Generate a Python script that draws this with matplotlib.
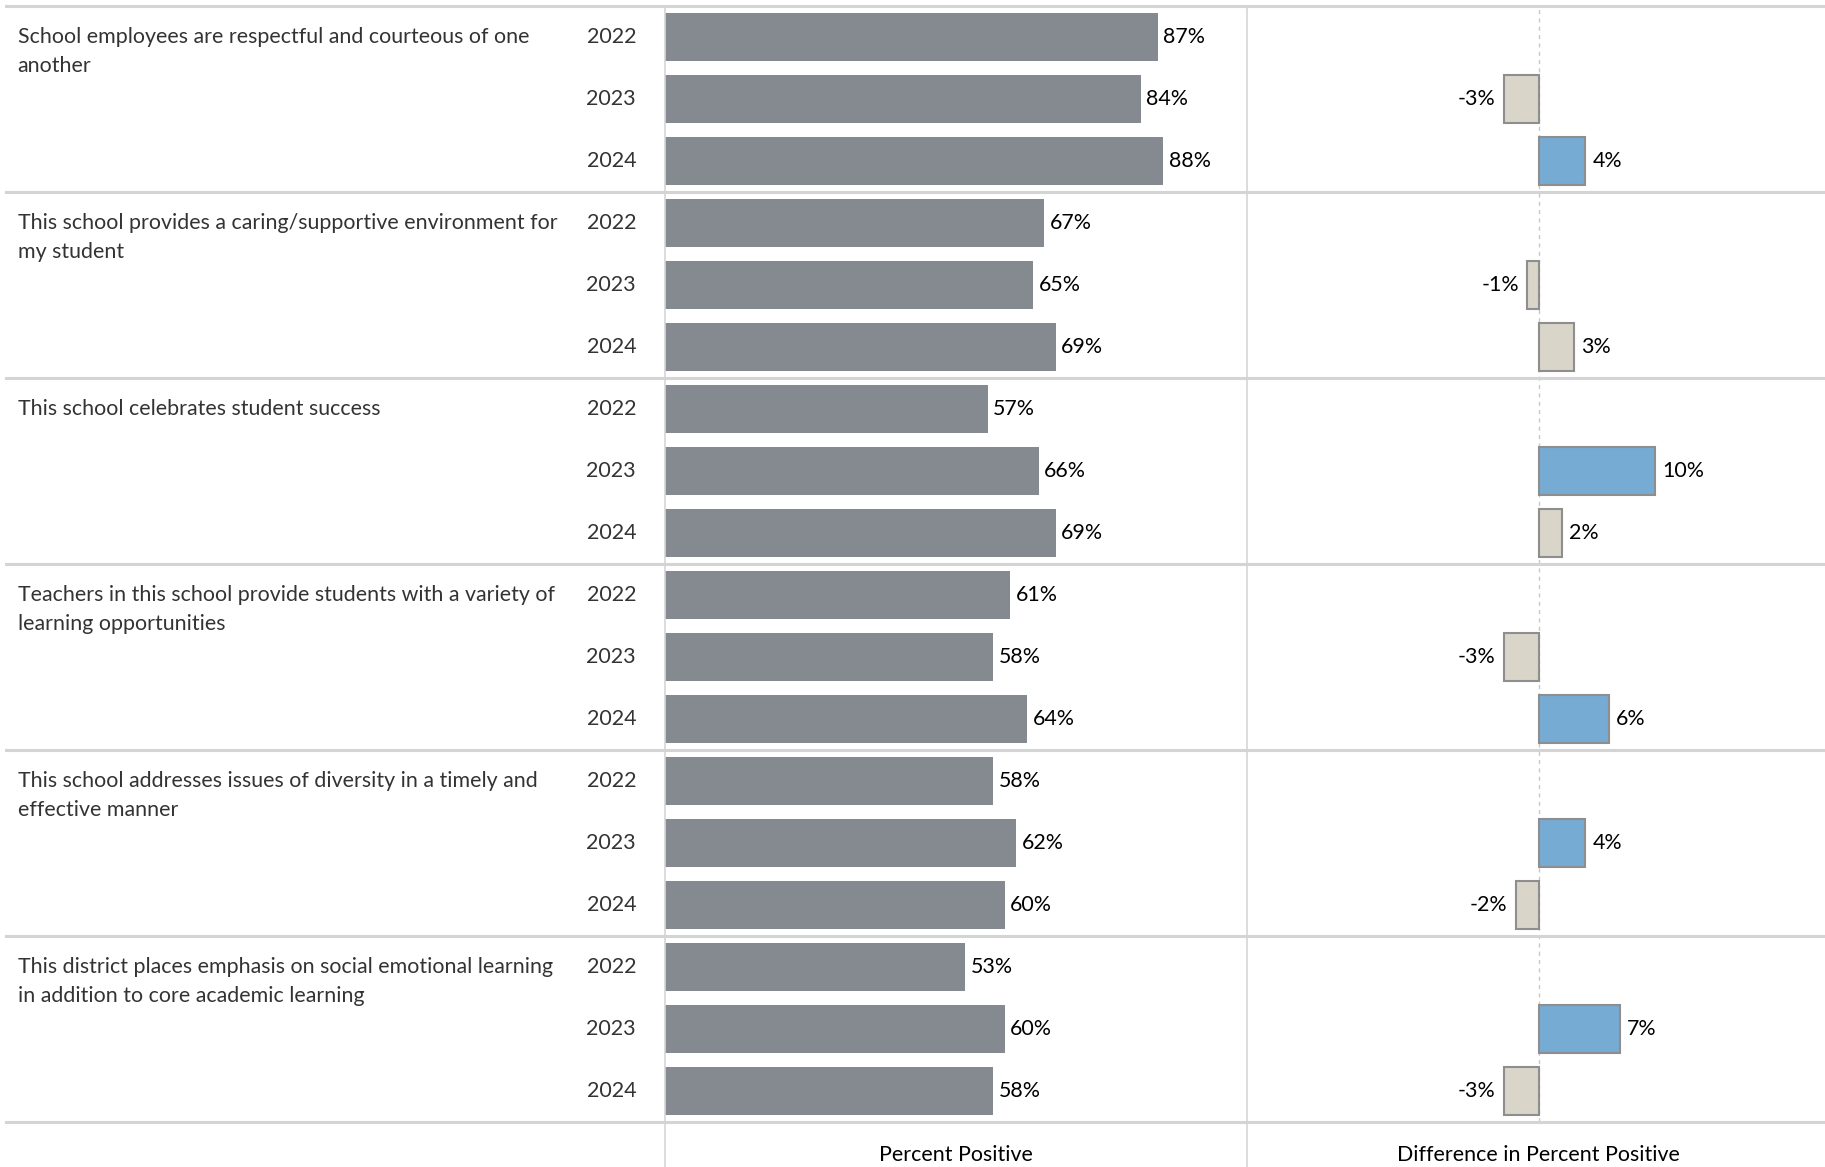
import matplotlib
matplotlib.use("Agg")
import matplotlib.pyplot as plt
from matplotlib.lines import Line2D

questions = [
    "School employees are respectful and courteous of one\nanother",
    "This school provides a caring/supportive environment for\nmy student",
    "This school celebrates student success",
    "Teachers in this school provide students with a variety of\nlearning opportunities",
    "This school addresses issues of diversity in a timely and\neffective manner",
    "This district places emphasis on social emotional learning\nin addition to core academic learning",
]
years = ["2022", "2023", "2024"]
percent_positive = [
    [87, 84, 88],
    [67, 65, 69],
    [57, 66, 69],
    [61, 58, 64],
    [58, 62, 60],
    [53, 60, 58],
]
difference = [
    [None, -3, 4],
    [None, -1, 3],
    [None, 10, 2],
    [None, -3, 6],
    [None, 4, -2],
    [None, 7, -3],
]
# "up" = notable increase (blue), "flat" = other (beige)
diff_category = [
    [None, "flat", "up"],
    [None, "flat", "flat"],
    [None, "up", "flat"],
    [None, "flat", "up"],
    [None, "up", "flat"],
    [None, "up", "flat"],
]

W, H = 1825, 1167
DPI = 100
FONT = ["Lato", "DejaVu Sans"]
FS = 15.4
plt.rcParams["font.family"] = FONT

fig = plt.figure(figsize=(W / DPI, H / DPI), dpi=DPI)
fig.patch.set_facecolor("white")

top_px, bot_px = 6, 1122
x_left, x_mid, x_right = 665, 1247, 1825
n_rows = len(questions) * len(years)
row_px = (bot_px - top_px) / n_rows


def fx(px):
    return px / W


def fy(py):
    return 1 - py / H


def add_ax(x0, x1):
    ax = fig.add_axes([fx(x0), fy(bot_px), fx(x1) - fx(x0), (bot_px - top_px) / H])
    ax.set_ylim(n_rows, 0)
    ax.axis("off")
    return ax


D_LO, D_HI = -25.1, 24.6
ax0 = add_ax(0, x_left)
ax0.set_xlim(0, x_left)
ax1 = add_ax(x_left, x_mid)
ax1.set_xlim(0, 102.8)
ax2 = add_ax(x_mid, x_right)
ax2.set_xlim(D_LO, D_HI)

GRAY = "#858a90"
BLUE = "#76abd4"
BEIGE = "#d9d5c9"
EDGE = "#8e8e8e"
TXT = "#333333"
bar_h = 0.79
line2_off = 29 / row_px

for g, q in enumerate(questions):
    base = g * len(years)
    for k, line in enumerate(q.split("\n")):
        ax0.text(17.5, base + 0.5 + k * line2_off, line, ha="left", va="center",
                 fontsize=FS, color=TXT)
    for j, yr in enumerate(years):
        yc = base + j + 0.5
        ax0.text(636, yc, yr, ha="right", va="center", fontsize=FS, color=TXT)
        v = percent_positive[g][j]
        ax1.barh(yc, v, height=bar_h, color=GRAY, edgecolor="none")
        ax1.annotate(f"{v}%", (v, yc), xytext=(4.0, 0), textcoords="offset points",
                     ha="left", va="center", fontsize=FS, color="black")
        d = difference[g][j]
        if d is not None:
            c = BLUE if diff_category[g][j] == "up" else BEIGE
            ax2.barh(yc, d, height=bar_h, color=c, edgecolor=EDGE, linewidth=1.5)
            if d >= 0:
                ax2.annotate(f"{d}%", (d, yc), xytext=(5, 0), textcoords="offset points",
                             ha="left", va="center", fontsize=FS, color="black")
            else:
                ax2.annotate(f"{d}%", (d, yc), xytext=(-6, 0), textcoords="offset points",
                             ha="right", va="center", fontsize=FS, color="black")

# zero reference line
ax2.axvline(0, color="#c8c8c8", linestyle=(0, (3, 3)), linewidth=1, zorder=0)

# vertical panel lines
for xp in (x_left, x_mid):
    fig.add_artist(Line2D([fx(xp), fx(xp)], [fy(top_px), 0], color="#d6d6d6", linewidth=1.2))

# horizontal separators
for g in range(len(questions) + 1):
    yp = top_px + g * len(years) * row_px
    fig.add_artist(Line2D([fx(6), 1], [fy(yp), fy(yp)], color="#d4d4d4", linewidth=2.2))

fig.text(fx((x_left + x_mid) / 2), fy(1155), "Percent Positive", ha="center", va="center",
         fontsize=FS, color="black")
fig.text(fx(x_mid + (0 - D_LO) / (D_HI - D_LO) * (x_right - x_mid)), fy(1155),
         "Difference in Percent Positive", ha="center", va="center", fontsize=FS, color="black")

fig.savefig("out.png", dpi=DPI, facecolor="white")
